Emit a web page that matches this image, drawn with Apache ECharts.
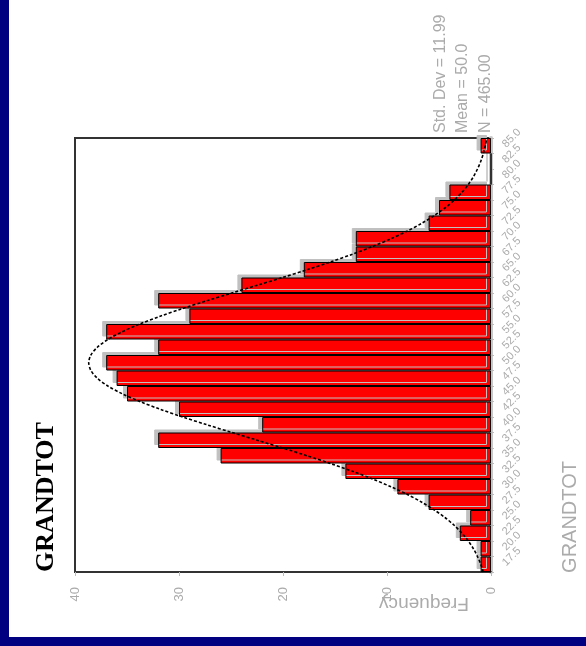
<!DOCTYPE html>
<html>
<head>
<meta charset="utf-8">
<script src="https://cdn.jsdelivr.net/npm/echarts@6/dist/echarts.min.js"></script>
<style>
html,body{margin:0;padding:0;width:586px;height:646px;background:#000080;overflow:hidden;}
#c{position:absolute;left:9px;top:0;width:577px;height:637px;background:#fff;}
</style>
</head>
<body>
<div id="c"></div>
<script>
// Bin midpoints of GRANDTOT (bottom to top)
const categories = ['17.5','20.0','22.5','25.0','27.5','30.0','32.5','35.0','37.5','40.0','42.5','45.0','47.5','50.0','52.5','55.0','57.5','60.0','62.5','65.0','67.5','70.0','72.5','75.0','77.5','80.0','82.5','85.0'];
// Frequencies per bin
const frequencies = [1,1,3,2,6,9,14,26,32,22,30,35,36,37,32,37,29,32,24,18,13,13,6,5,4,0,0,1];
// Normal curve: GRANDTOT value and frequency
const curveValue = [16.25,17.5,18.75,20,21.25,22.5,23.75,25,26.25,27.5,28.75,30,31.25,32.5,33.75,35,36.25,37.5,38.75,40,41.25,42.5,43.75,45,46.25,47.5,48.75,50,51.25,52.5,53.75,55,56.25,57.5,58.75,60,61.25,62.5,63.75,65,66.25,67.5,68.75,70,71.25,72.5,73.75,75,76.25,77.5,78.75,80,81.25,82.5,83.75,85,86.25];
const curveFreq = [0.74,0.98,1.30,1.69,2.18,2.79,3.52,4.40,5.44,6.65,8.04,9.62,11.39,13.33,15.45,17.69,20.04,22.47,24.91,27.32,29.64,31.81,33.77,35.46,36.84,37.85,38.47,38.68,38.47,37.85,36.84,35.46,33.77,31.81,29.64,27.32,24.91,22.47,20.04,17.69,15.45,13.33,11.39,9.62,8.04,6.65,5.44,4.40,3.52,2.79,2.18,1.69,1.30,0.98,0.74,0.55,0.40];
const freqTicks = [0,10,20,30,40];
const statLines = ['Std. Dev = 11.99','Mean = 50.0','N = 465.00'];
const titleText = 'GRANDTOT';
const freqName = 'Frequency';
const catName = 'GRANDTOT';

const chart = echarts.init(document.getElementById('c'), null, {renderer:'canvas'});
const gray = '#ababab';
const sans = '"Liberation Sans", Arial, sans-serif';
const curveData = curveValue.map((v,i)=>[curveFreq[i], v]);

chart.setOption({
  backgroundColor:'#ffffff',
  animation:false,
  grid:{left:66, right:95, top:138, bottom:65, show:true, borderColor:'#333', borderWidth:2, backgroundColor:'#fff'},
  xAxis:{
    type:'value', inverse:true, min:freqTicks[0], max:freqTicks[freqTicks.length-1], interval:10,
    position:'bottom',
    axisLine:{show:true, lineStyle:{color:'#333', width:2}},
    axisTick:{show:true, length:4, lineStyle:{color:'#bbb'}},
    axisLabel:{rotate:90, margin:15, color:gray, fontSize:13, fontFamily:sans},
    splitLine:{show:false}
  },
  yAxis:[{
    type:'category', data:categories, position:'right', offset:3,
    axisLine:{show:true, lineStyle:{color:'#c8c8c8', width:4}},
    axisTick:{show:true, length:3, lineStyle:{color:'#bbb'}},
    axisLabel:{rotate:45, margin:10, interval:0, color:gray, fontSize:11, fontFamily:sans},
    splitLine:{show:false}
  },{
    type:'value', min:16.25, max:86.25, show:false
  }],
  series:[{
    type:'bar', data:frequencies, xAxisIndex:0, yAxisIndex:0,
    barCategoryGap:'0%',
    itemStyle:{color:'#ff0000', borderColor:'#000', borderWidth:1,
      shadowColor:'#c0c0c0', shadowBlur:0, shadowOffsetX:-4, shadowOffsetY:-3},
    z:2
  },{
    type:'line', data:curveData, xAxisIndex:0, yAxisIndex:1,
    smooth:0.3, symbol:'none',
    lineStyle:{color:'#000', width:1.6, type:[3,2]},
    z:5
  }],
  graphic:[
    {type:'text', x:37, y:497, rotation:Math.PI/2,
     style:{text:titleText, font:'bold 26px "Liberation Serif", serif', fill:'#000', align:'center', verticalAlign:'middle'}},
    {type:'text', x:415, y:603, rotation:Math.PI,
     style:{text:freqName, font:'19px '+sans, fill:gray, align:'center', verticalAlign:'middle'}},
    {type:'text', x:561, y:517, rotation:Math.PI/2,
     style:{text:catName, font:'20px '+sans, fill:gray, align:'center', verticalAlign:'middle'}},
    {type:'text', x:432, y:133, rotation:Math.PI/2,
     style:{text:statLines[0], font:'16px '+sans, fill:gray, align:'left', verticalAlign:'middle'}},
    {type:'text', x:454, y:133, rotation:Math.PI/2,
     style:{text:statLines[1], font:'16px '+sans, fill:gray, align:'left', verticalAlign:'middle'}},
    {type:'text', x:477, y:133, rotation:Math.PI/2,
     style:{text:statLines[2], font:'16px '+sans, fill:gray, align:'left', verticalAlign:'middle'}}
  ]
});
</script>
</body>
</html>
